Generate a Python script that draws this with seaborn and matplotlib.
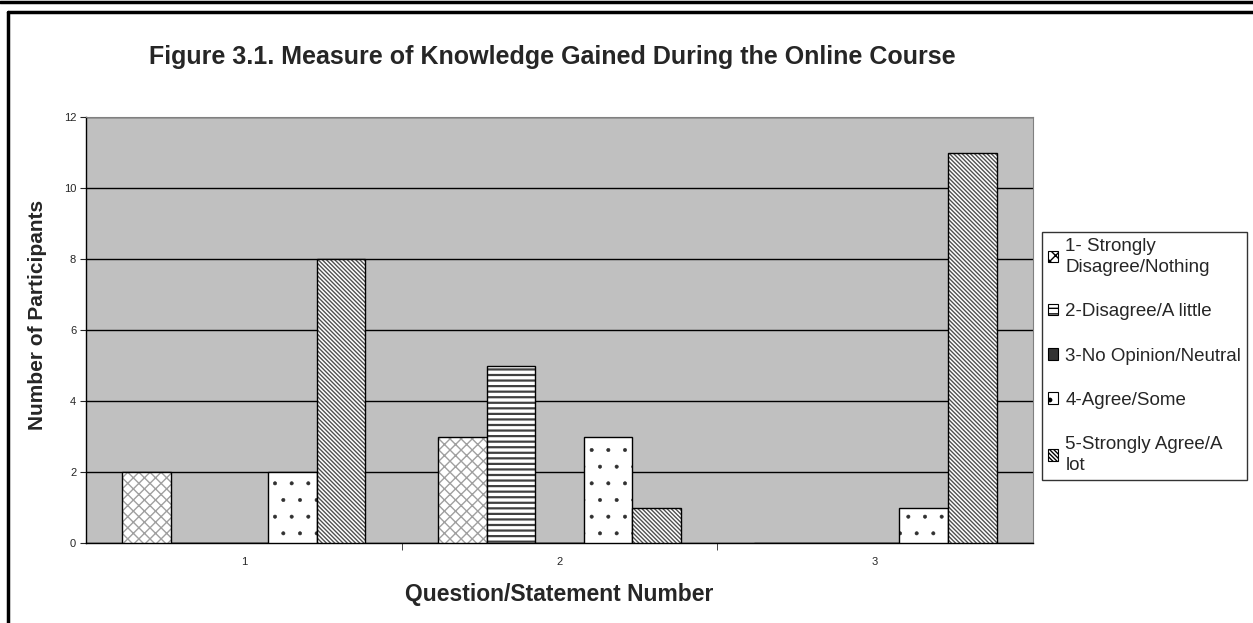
import pandas as pd
import matplotlib.pyplot as plt
import seaborn as sns
from matplotlib.patches import Patch
from matplotlib.lines import Line2D
from matplotlib.colors import to_rgba

# Data
questions = ["1", "2", "3"]
levels = ["1- Strongly\nDisagree/Nothing", "2-Disagree/A little", "3-No Opinion/Neutral",
          "4-Agree/Some", "5-Strongly Agree/A\nlot"]
strongly_disagree = [2, 3, 0]
disagree = [0, 5, 0]
neutral = [0, 0, 0]
agree = [2, 3, 1]
strongly_agree = [8, 1, 11]

series = [strongly_disagree, disagree, neutral, agree, strongly_agree]
rows = []
for lvl, vals in zip(levels, series):
    for q, v in zip(questions, vals):
        rows.append({"question": q, "level": lvl, "count": v})
df = pd.DataFrame(rows)

sns.set_style("white")
plt.rcParams["font.family"] = ["Liberation Sans", "DejaVu Sans"]
plt.rcParams["hatch.linewidth"] = 1.0

fig = plt.figure(figsize=(12.53, 6.23), dpi=100)
ax = fig.add_axes([0.0686, 0.1284, 0.7558, 0.6838])
ax.set_facecolor("#c0c0c0")

sns.barplot(data=df, x="question", y="count", hue="level", hue_order=levels,
            order=questions, width=0.77, color="white", edgecolor="black",
            linewidth=1.0, saturation=1, legend=False, ax=ax, zorder=3)

hatches = ["xxx", "---", None, ".", "\\" * 8]
hatch_cols = ["#a0a0a0", "#404040", "black", "#303030", "#505050"]
hatch_lw = [1.0, 1.6, 1.0, 0.4, 1.0]
faces = ["white", "white", "#333333", "white", "white"]
for cont, h, hc, lw, fc in zip(ax.containers, hatches, hatch_cols, hatch_lw, faces):
    for bar in cont:
        bar.set_facecolor(fc)
        if h:
            bar.set_hatch(h)
        bar._hatch_color = to_rgba(hc)
        if hasattr(bar, "set_hatch_linewidth"):
            bar.set_hatch_linewidth(lw)
        else:
            bar._hatch_linewidth = lw

ax.set_ylim(0, 12)
ax.set_xlim(-0.5, 2.5)
ax.set_yticks(range(0, 13, 2))
ax.yaxis.grid(True, color="black", linewidth=1.0, zorder=1)
ax.set_axisbelow(True)
ax.tick_params(axis="y", labelsize=8, length=4, direction="out", left=True, pad=3)
ax.tick_params(axis="x", which="major", labelsize=8, length=0, pad=10)
ax.set_xticks([0.5, 1.5], minor=True)
ax.tick_params(axis="x", which="minor", length=5, direction="out", bottom=True)

for side in ["top", "right"]:
    ax.spines[side].set_color("#808080")
for side in ["left", "bottom"]:
    ax.spines[side].set_color("black")
    ax.spines[side].set_linewidth(1.0)

ax.set_xlabel("Question/Statement Number", fontsize=16.5, fontweight="bold")
ax.xaxis.set_label_coords(0.5, -0.094)
ax.set_ylabel("Number of Participants", fontsize=15, fontweight="bold")
ax.yaxis.set_label_coords(-0.041, 0.535)
fig.text(0.441, 0.9085, "Figure 3.1. Measure of Knowledge Gained During the Online Course",
         ha="center", va="center", fontsize=18, fontweight="bold")

handles = []
for h, hc, fc in zip(hatches, hatch_cols, faces):
    p = Patch(facecolor=fc, edgecolor="black", hatch=h, linewidth=0.8)
    handles.append(p)
leg = fig.legend(handles, levels, loc="upper left", bbox_to_anchor=(1042 / 1253, 1 - 232 / 623),
                 frameon=True, fancybox=False, edgecolor="black", fontsize=13.5,
                 handlelength=0.55, handleheight=0.55, handletextpad=0.4,
                 labelspacing=1.45, borderpad=0.3, borderaxespad=0)
leg.get_frame().set_linewidth(1.0)
for t in leg.get_texts():
    t.set_linespacing(1.35)

# Outer frame lines
fig.add_artist(Line2D([0, 1], [0.996, 0.996], color="black", linewidth=2.5, transform=fig.transFigure))
fig.add_artist(Line2D([0.0064, 1], [0.981, 0.981], color="black", linewidth=2.5, transform=fig.transFigure))
fig.add_artist(Line2D([0.0064, 0.0064], [0, 0.981], color="black", linewidth=2.5, transform=fig.transFigure))

fig.savefig("out.png", dpi=100)
